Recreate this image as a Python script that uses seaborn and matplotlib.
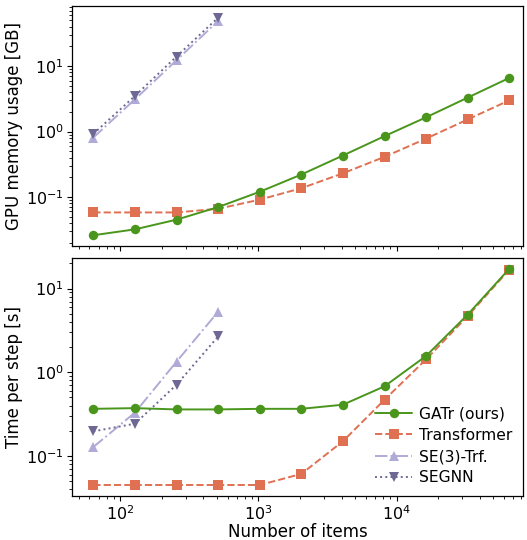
import matplotlib
matplotlib.use("Agg")
import matplotlib.pyplot as plt
import pandas as pd
import seaborn as sns
import numpy as np

# number of items per benchmark point
items = [64, 128, 256, 512, 1024, 2048, 4096, 8192, 16384, 32768, 65536]
items_small = [64, 128, 256, 512]

models = ["GATr (ours)", "Transformer", "SE(3)-Trf.", "SEGNN"]

# GPU memory usage [GB]
mem_gatr = [0.026, 0.032, 0.045, 0.070, 0.12, 0.22, 0.43, 0.85, 1.65, 3.3, 6.6]
mem_transformer = [0.058, 0.058, 0.058, 0.066, 0.091, 0.136, 0.23, 0.41, 0.78, 1.53, 3.0]
mem_se3 = [0.81, 3.1, 12.3, 49]
mem_segnn = [0.92, 3.5, 14, 55]

# time per step [s]
time_gatr = [0.366, 0.373, 0.36, 0.36, 0.366, 0.366, 0.41, 0.68, 1.57, 4.9, 17.3]
time_transformer = [0.045, 0.045, 0.045, 0.045, 0.045, 0.061, 0.15, 0.47, 1.43, 4.7, 16.9]
time_se3 = [0.128, 0.33, 1.34, 5.3]
time_segnn = [0.197, 0.243, 0.71, 2.68]

colors = {"GATr (ours)": "#4a961c", "Transformer": "#e07052",
          "SE(3)-Trf.": "#afabd6", "SEGNN": "#6d6994"}
markers = {"GATr (ours)": "o", "Transformer": "s", "SE(3)-Trf.": "^", "SEGNN": "v"}
dashes = {"GATr (ours)": "", "Transformer": (3.7, 1.6),
          "SE(3)-Trf.": (6.4, 1.6, 1, 1.6), "SEGNN": (1, 1.65)}


def long_table(gatr, trf, se3, segnn):
    parts = []
    for name, xs, ys in [("GATr (ours)", items, gatr), ("Transformer", items, trf),
                         ("SE(3)-Trf.", items_small, se3), ("SEGNN", items_small, segnn)]:
        parts.append(pd.DataFrame({"items": xs, "value": ys, "model": name}))
    return pd.concat(parts, ignore_index=True)


sns.set_theme(style="ticks", rc={"text.color": "black", "axes.labelcolor": "black",
                                 "xtick.color": "black", "ytick.color": "black",
                                 "axes.edgecolor": "black"})
plt.rcParams["font.family"] = ["DejaVu Sans"]

fig = plt.figure(figsize=(5.27, 5.40), dpi=100)
ax1 = fig.add_axes([0.137, 0.545, 0.855, 0.444])
ax2 = fig.add_axes([0.137, 0.081, 0.855, 0.442])

for ax, df in [(ax1, long_table(mem_gatr, mem_transformer, mem_se3, mem_segnn)),
               (ax2, long_table(time_gatr, time_transformer, time_se3, time_segnn))]:
    sns.lineplot(data=df, x="items", y="value", hue="model", style="model",
                 hue_order=models, style_order=models, palette=colors,
                 markers=markers, dashes=dashes, markersize=6.8, markeredgewidth=0,
                 linewidth=1.4, ax=ax)
    # GATr on top
    for line in ax.get_lines():
        if line.get_color() == colors["GATr (ours)"]:
            line.set_zorder(5)
    ax.set_xscale("log")
    ax.set_yscale("log")
    ax.set_xlim(45, 82000)
    ax.tick_params(which="major", labelsize=11.5, length=3.5, width=0.8, pad=2.5)
    ax.tick_params(which="minor", length=2, width=0.6)
    for sp in ax.spines.values():
        sp.set_linewidth(0.9)
    ax.set_ylabel("")
    ax.set_xlabel("")

ax1.set_ylim(0.018, 83)
ax2.set_ylim(0.033, 23.5)
ax1.set_xticklabels([])
ax1.legend_.remove()
ax1.set_ylabel("GPU memory usage [GB]", fontsize=12, labelpad=2)
ax2.set_ylabel("Time per step [s]", fontsize=12, labelpad=2)
ax2.set_xlabel("Number of items", fontsize=12, labelpad=0)
ax2.legend(loc="lower right", frameon=False, fontsize=11.2, handlelength=2.4,
           borderaxespad=0.3, labelspacing=0.4, handletextpad=0.4)

fig.savefig("out.png", dpi=100)
